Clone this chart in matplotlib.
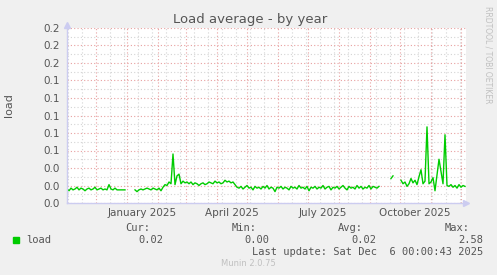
import numpy as np
import pandas as pd
import matplotlib
matplotlib.use("Agg")
import matplotlib.pyplot as plt
import matplotlib.dates as mdates
import matplotlib.transforms as mtrans

# daily-average load, one value every 2 days starting 2024-11-02 (None = no data)
start_date = "2024-11-02"
end_date = "2025-12-06"
load = [
    0.016, 0.014, 0.017, 0.015, 0.016, 0.018, 0.015, 0.017, 0.016, 0.014,
    0.016, 0.017, 0.015, 0.016, 0.018, 0.015, 0.016, 0.017, 0.015, 0.016,
    0.015, 0.021, 0.016, 0.015, 0.017, 0.015, 0.015, 0.015, 0.015, 0.015,
    None, None, None, None,
    0.015, 0.013, 0.015, 0.016, 0.015, 0.016, 0.017, 0.016, 0.015, 0.017,
    0.016, 0.015, 0.017, 0.014, 0.018, 0.021,
    0.020, 0.024, 0.022, 0.056, 0.021, 0.031, 0.033, 0.022,
    0.025, 0.023, 0.024, 0.022, 0.024, 0.021, 0.023, 0.022, 0.020, 0.022,
    0.023, 0.021, 0.022, 0.024, 0.023, 0.022, 0.025, 0.023, 0.024, 0.022,
    0.023, 0.026, 0.024, 0.025, 0.023, 0.024, 0.021,
    0.018, 0.017, 0.019, 0.016, 0.018, 0.020, 0.017, 0.018, 0.015, 0.019,
    0.017, 0.018, 0.016, 0.019, 0.017, 0.020, 0.016, 0.018, 0.017, 0.013,
    0.018, 0.017, 0.019, 0.016, 0.018, 0.017, 0.015, 0.019, 0.017, 0.018,
    0.016, 0.020, 0.017, 0.018, 0.016, 0.019, 0.014, 0.018, 0.017, 0.019,
    0.016, 0.018, 0.017, 0.020, 0.016, 0.018, 0.019, 0.015, 0.018, 0.017,
    0.019, 0.016, 0.018, 0.020, 0.017, 0.015, 0.019, 0.017, 0.018, 0.016,
    0.020, 0.017, 0.019, 0.016, 0.018, 0.017, 0.020, 0.016, 0.019, 0.018,
    0.017, 0.019,
    None, None, None, None, None,
    0.028, 0.031,
    None, None, None,
    0.026, 0.022, 0.024, 0.019, 0.022, 0.028, 0.023, 0.026, 0.021, 0.030,
    0.038, 0.022, 0.025, 0.087, 0.022, 0.024, 0.029, 0.014, 0.032, 0.050,
    0.036, 0.022, 0.078, 0.020, 0.019, 0.021, 0.018, 0.020, 0.017, 0.021,
    0.018, 0.020, 0.019,
]
month_labels = ["January 2025", "April 2025", "July 2025", "October 2025"]
label_dates = ["2025-01-16", "2025-04-16", "2025-07-16", "2025-10-16"]
stats_names = ["Cur:", "Min:", "Avg:", "Max:"]
stats_values = ["0.02", "0.00", "0.02", "2.58"]

values = np.array([np.nan if v is None else v for v in load], dtype=float)
dates = pd.date_range(start_date, periods=len(values), freq="2D")

W, H = 497, 275
fig = plt.figure(figsize=(W / 100, H / 100), dpi=100, facecolor="#f0f0f0")
ax = fig.add_axes([67 / W, 72 / H, 399 / W, 175 / H], facecolor="white")

ax.plot(dates, values, color="#00cc00", lw=1.0)

ax.set_xlim(pd.Timestamp(start_date), pd.Timestamp(end_date))
ax.set_ylim(0, 0.2)

ax.yaxis.set_major_locator(plt.MultipleLocator(0.02))
ax.yaxis.set_minor_locator(plt.MultipleLocator(0.01))
ax.yaxis.set_major_formatter(plt.FormatStrFormatter("%.1f"))
ax.xaxis.set_major_locator(mdates.MonthLocator())
ax.xaxis.set_minor_locator(mdates.WeekdayLocator(byweekday=mdates.SU, interval=2))
ax.xaxis.set_major_formatter(plt.NullFormatter())

ax.grid(which="major", color="#e8a0a0", linestyle=(0, (1, 2)), lw=0.8)
ax.grid(which="minor", color="#d4d4d4", linestyle=(0, (1, 2)), lw=0.8)
ax.set_axisbelow(True)
ax.tick_params(which="both", length=0, labelsize=7.5, colors="#555555", pad=5)

for s in ["top", "right"]:
    ax.spines[s].set_visible(False)
for s in ["left", "bottom"]:
    ax.spines[s].set_color("#ccccf0")
    ax.spines[s].set_linewidth(1.0)

# axis arrows
ax.plot(1, 0, ">", transform=ax.transAxes, color="#ccccf0", ms=4, clip_on=False)
ax.plot(0, 1.02, "^", transform=ax.transAxes, color="#ccccf0", ms=4, clip_on=False)

trans = mtrans.blended_transform_factory(ax.transData, ax.transAxes)
for d, lab in zip(label_dates, month_labels):
    ax.text(mdates.date2num(pd.Timestamp(d)), -0.06, lab, transform=trans,
            ha="center", va="center", fontsize=7.5, color="#555555")

fig.text(250 / W, 1 - 19 / H, "Load average - by year", ha="center", va="center",
         fontsize=9.5, color="#555555")
fig.text(9 / W, 1 - 105 / H, "load", rotation=90, ha="center", va="center",
         fontsize=8, color="#555555")
fig.text(488 / W, 1 - 6 / H, "RRDTOOL / TOBI OETIKER", rotation=270, ha="center",
         va="top", fontsize=5.5, color="#c0c0c0")

mono = "DejaVu Sans Mono"
name_x = [150, 257, 363, 470]
val_x = [163, 269, 376, 483]
for nx, vx, n, v in zip(name_x, val_x, stats_names, stats_values):
    fig.text(nx / W, 1 - 228 / H, n, ha="right", va="center", fontsize=7.5,
             family=mono, color="#555555")
    fig.text(vx / W, 1 - 240 / H, v, ha="right", va="center", fontsize=7.5,
             family=mono, color="#555555")
fig.patches.append(plt.Rectangle((13 / W, 1 - 243 / H), 6 / W, 6 / H,
                                 transform=fig.transFigure, color="#00cc00"))
fig.text(26 / W, 1 - 240 / H, "load", ha="left", va="center", fontsize=7.5,
         family=mono, color="#555555")
fig.text(483 / W, 1 - 252 / H, "Last update: Sat Dec  6 00:00:43 2025", ha="right",
         va="center", fontsize=7.5, family=mono, color="#555555")
fig.text(248 / W, 1 - 264 / H, "Munin 2.0.75", ha="center", va="center",
         fontsize=6, color="#c0c0c0")

fig.savefig("out.png", dpi=100, facecolor=fig.get_facecolor())
